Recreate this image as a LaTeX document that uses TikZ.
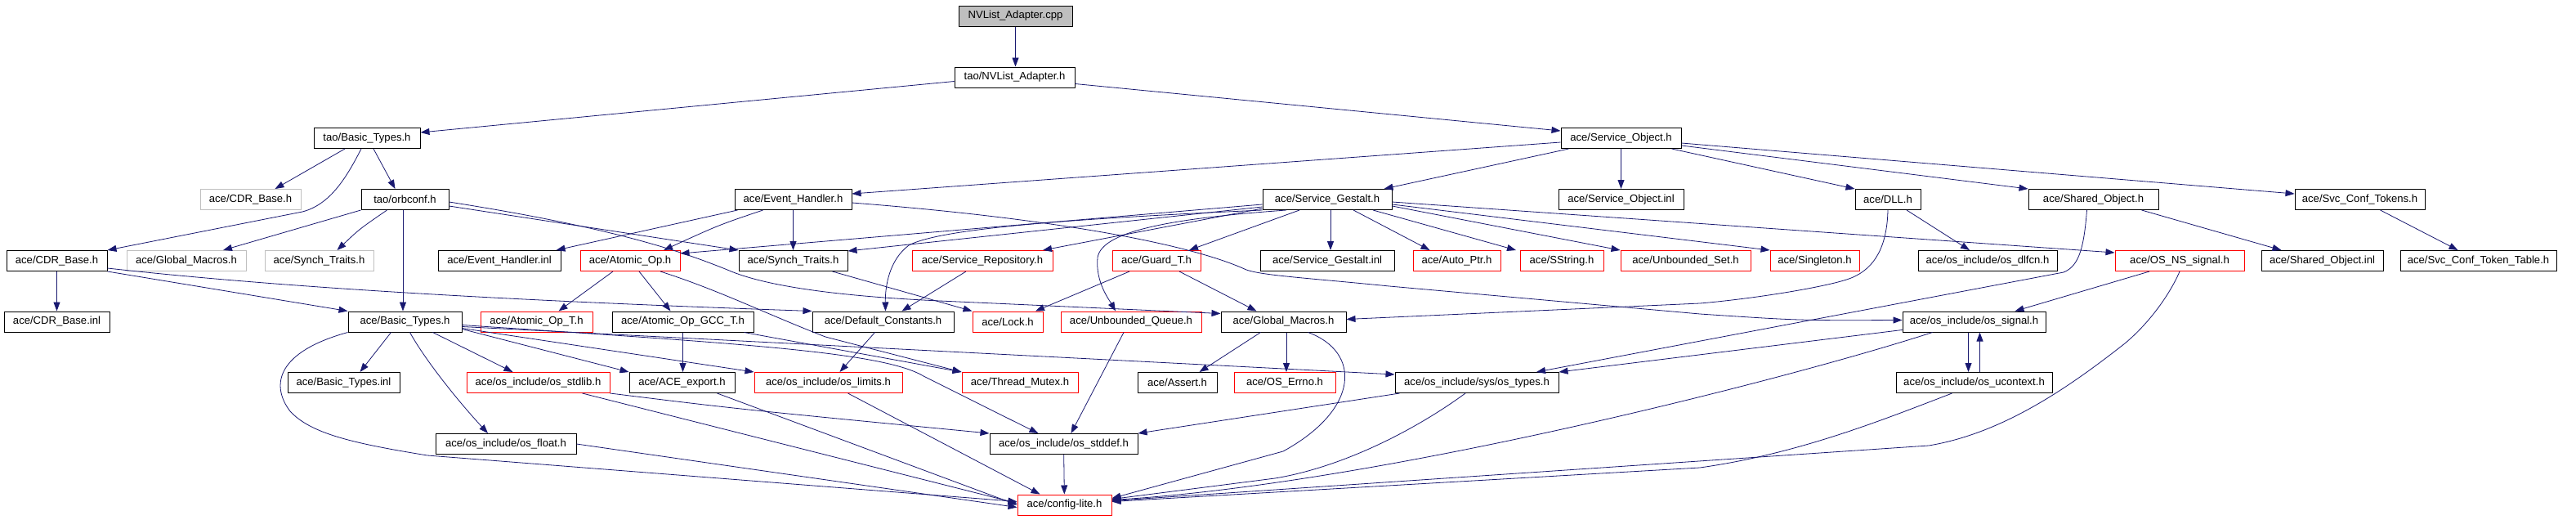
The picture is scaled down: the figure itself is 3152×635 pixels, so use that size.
\documentclass[tikz,border=0pt]{standalone}
\usepackage{fontspec}
\setmainfont{Liberation Sans}
\usetikzlibrary{arrows.meta}
\definecolor{edgec}{HTML}{191970}
\definecolor{grayb}{HTML}{BFBFBF}
\begin{document}
\begin{tikzpicture}[x=1pt,y=1pt,
  box/.style={draw=black, line width=1pt, minimum height=25pt, inner sep=0pt, font=\fontsize{13.1}{14}\selectfont, anchor=center},
  redbox/.style={box, draw=red},
  graybox/.style={box, draw=grayb},
  rootbox/.style={box, fill=grayb},
  dep/.style={draw=edgec, line width=0.8pt, -{Triangle[length=11pt,width=8pt]}},
]
\useasboundingbox (0,0) rectangle (3152,-635);
% row 0,1
\node[rootbox, minimum width=139pt] (root) at (1242.5,-19.5) {NVList\_Adapter.cpp};
\node[box, minimum width=147pt] (nvh) at (1241.5,-94.5) {tao/NVList\_Adapter.h};
% row 2
\node[box, minimum width=130pt] (tbt) at (449,-169) {tao/Basic\_Types.h};
\node[box, minimum width=147pt] (so) at (1983.5,-169) {ace/Service\_Object.h};
% row 3
\node[graybox, minimum width=123pt] (cdrg) at (306.5,-244) {ace/CDR\_Base.h};
\node[box, minimum width=107pt] (orb) at (495.5,-244) {tao/orbconf.h};
\node[box, minimum width=143pt] (eh) at (970.5,-244) {ace/Event\_Handler.h};
\node[box, minimum width=158pt] (sg) at (1624,-244) {ace/Service\_Gestalt.h};
\node[box, minimum width=153pt] (soi) at (1983.5,-244) {ace/Service\_Object.inl};
\node[box, minimum width=80pt] (dll) at (2310,-244) {ace/DLL.h};
\node[box, minimum width=159pt] (sho) at (2561.5,-244) {ace/Shared\_Object.h};
\node[box, minimum width=159pt] (sct) at (2887.5,-244) {ace/Svc\_Conf\_Tokens.h};
% row 4
\node[box, minimum width=123pt] (cdr) at (69.5,-319) {ace/CDR\_Base.h};
\node[graybox, minimum width=146pt] (gmg) at (228,-319) {ace/Global\_Macros.h};
\node[graybox, minimum width=133pt] (stg) at (390.5,-319) {ace/Synch\_Traits.h};
\node[box, minimum width=150pt] (ehi) at (611,-319) {ace/Event\_Handler.inl};
\node[redbox, minimum width=122pt] (aop) at (771,-319) {ace/Atomic\_Op.h};
\node[box, minimum width=133pt] (st) at (970.5,-319) {ace/Synch\_Traits.h};
\node[redbox, minimum width=172pt] (sr) at (1202,-319) {ace/Service\_Repository.h};
\node[redbox, minimum width=108pt] (gt) at (1415,-319) {ace/Guard\_T.h};
\node[box, minimum width=164pt] (sgi) at (1624,-319) {ace/Service\_Gestalt.inl};
\node[redbox, minimum width=107pt] (ap) at (1782.5,-319) {ace/Auto\_Ptr.h};
\node[redbox, minimum width=102pt] (ss) at (1911,-319) {ace/SString.h};
\node[redbox, minimum width=159pt] (us) at (2062.5,-319) {ace/Unbounded\_Set.h};
\node[redbox, minimum width=109pt] (sgl) at (2220.5,-319) {ace/Singleton.h};
\node[box, minimum width=170pt] (dlf) at (2432,-319) {ace/os\_include/os\_dlfcn.h};
\node[redbox, minimum width=158pt] (nss) at (2667,-319) {ace/OS\_NS\_signal.h};
\node[box, minimum width=149pt] (shoi) at (2841.5,-319) {ace/Shared\_Object.inl};
\node[box, minimum width=191pt] (sctt) at (3032.5,-319) {ace/Svc\_Conf\_Token\_Table.h};
% row 5
\node[box, minimum width=129pt] (cdri) at (69.5,-393.5) {ace/CDR\_Base.inl};
\node[box, minimum width=139pt] (bt) at (495.5,-393.5) {ace/Basic\_Types.h};
\node[redbox, minimum width=137pt] (aopt) at (656.5,-393.5) {ace/Atomic\_Op\_T.h};
\node[box, minimum width=173pt] (gcc) at (835.5,-393.5) {ace/Atomic\_Op\_GCC\_T.h};
\node[box, minimum width=173pt] (dc) at (1080.5,-393.5) {ace/Default\_Constants.h};
\node[redbox, minimum width=86pt] (lock) at (1233,-393.5) {ace/Lock.h};
\node[redbox, minimum width=172pt] (uq) at (1384,-393.5) {ace/Unbounded\_Queue.h};
\node[box, minimum width=153pt] (gm) at (1570.5,-393.5) {ace/Global\_Macros.h};
\node[box, minimum width=175pt] (sig) at (2415.5,-393.5) {ace/os\_include/os\_signal.h};
% row 6
\node[box, minimum width=137pt] (bti) at (420.5,-468) {ace/Basic\_Types.inl};
\node[redbox, minimum width=175pt] (stdlib) at (658.5,-468) {ace/os\_include/os\_stdlib.h};
\node[box, minimum width=129pt] (exp) at (834.5,-468) {ace/ACE\_export.h};
\node[redbox, minimum width=181pt] (lim) at (1013.5,-468) {ace/os\_include/os\_limits.h};
\node[redbox, minimum width=142pt] (tm) at (1248,-468) {ace/Thread\_Mutex.h};
\node[box, minimum width=97pt] (as) at (1440.5,-468) {ace/Assert.h};
\node[redbox, minimum width=124pt] (err) at (1572,-468) {ace/OS\_Errno.h};
\node[box, minimum width=200pt] (ost) at (1807,-468) {ace/os\_include/sys/os\_types.h};
\node[box, minimum width=191pt] (uc) at (2415.5,-468) {ace/os\_include/os\_ucontext.h};
% row 7,8
\node[box, minimum width=172pt] (flt) at (619,-543) {ace/os\_include/os\_float.h};
\node[box, minimum width=181pt] (std) at (1301.5,-543) {ace/os\_include/os\_stddef.h};
\node[redbox, minimum width=115pt] (cfg) at (1302.5,-617.5) {ace/config-lite.h};

% edges
\draw[dep] (root.south) -- (root.south |- nvh.north);
\draw[dep] ([yshift=-5pt]nvh.west) -- ([yshift=7pt]tbt.east);
\draw[dep] ([yshift=-8pt]nvh.east) -- ([yshift=9pt]so.west);
\draw[dep] ([xshift=-27pt]tbt.south) -- ([xshift=30pt]cdrg.north);
\draw[dep] ([xshift=-7pt]tbt.south) .. controls (425,-215) and (405,-250) .. (370,-259) -- (cdr.north east);
\draw[dep] ([xshift=8pt]tbt.south) -- ([xshift=-12pt]orb.north);
\draw[dep] (orb.south west) -- ([xshift=45pt]gmg.north);
\draw[dep] ([xshift=-22pt]orb.south) .. controls (440,-280) .. ([xshift=22pt]stg.north);
\draw[dep] ([xshift=-2.5pt]orb.south) -- ([xshift=-2.5pt]bt.north);
\draw[dep] ([yshift=-8pt]orb.east) -- (st.north west);
\draw[dep] ([yshift=-3pt]orb.east) .. controls (760,-280) and (840,-310) .. (890,-330) .. controls (940,-352) and (1040,-363) .. (1150,-368) -- ([yshift=10pt]gm.west);
\draw[dep] (cdr.south east) -- (bt.north west);
\draw[dep] ([yshift=-9pt]cdr.east) .. controls (400,-358) and (750,-372) .. (dc.north west);
\draw[dep] (cdr) -- (cdri);
\draw[dep] ([xshift=4pt]eh.south west) -- ([xshift=-6pt]ehi.north east);
\draw[dep] ([xshift=-37pt]eh.south) .. controls (880,-275) .. ([xshift=41pt]aop.north);
\draw[dep] (eh) -- (st);
\draw[dep] ([yshift=-4pt]eh.east) .. controls (1300,-268) and (1460,-300) .. (1525,-330) .. controls (1545,-337) and (1600,-340) .. (1700,-350) -- (2080,-384) .. controls (2200,-392) .. ([yshift=2pt]sig.west);
\draw[dep] ([yshift=-6pt]sg.west) -- ([yshift=9pt]aop.east);
\draw[dep] ([yshift=-9pt]sg.west) -- ([yshift=12pt]st.east);
\draw[dep] ([yshift=-11pt]sg.west) -- ([xshift=74pt]sr.north);
\draw[dep] (sg.south west) .. controls (1300,-268) and (1150,-280) .. (1112,-300) .. controls (1088,-318) and (1083,-350) .. ([xshift=3pt]dc.north);
\draw[dep] ([xshift=-34pt]sg.south) -- ([xshift=40pt]gt.north);
\draw[dep] ([xshift=-50pt]sg.south) .. controls (1420,-268) and (1348,-285) .. (1343,-315) .. controls (1340,-345) and (1358,-368) .. ([xshift=-19pt]uq.north);
\draw[dep] ([xshift=4pt]sg.south) -- ([xshift=4pt]sgi.north);
\draw[dep] ([xshift=32pt]sg.south) -- ([xshift=-33pt]ap.north);
\draw[dep] ([xshift=56pt]sg.south) -- ([xshift=-56pt]ss.north);
\draw[dep] ([yshift=-8pt]sg.east) -- (us.north west);
\draw[dep] ([yshift=-6pt]sg.east) -- (sgl.north west);
\draw[dep] ([yshift=-3pt]sg.east) -- ([yshift=10pt]nss.west);
\draw[dep] ([yshift=-5pt]so.west) -- ([yshift=7pt]eh.east);
\draw[dep] ([xshift=10pt]so.south west) -- ([xshift=-10pt]sg.north east);
\draw[dep] (so) -- (soi);
\draw[dep] ([xshift=-12pt]so.south east) -- (dll.north west);
\draw[dep] ([yshift=-9pt]so.east) -- (sho.north west);
\draw[dep] ([yshift=-6pt]so.east) -- ([yshift=7pt]sct.west);
\draw[dep] ([xshift=23pt]dll.south) -- ([xshift=-22pt]dlf.north);
\draw[dep] (dll.south) .. controls (2309,-300) and (2295,-328) .. (2265,-340) .. controls (2240,-350) and (2150,-365) .. (2080,-371) -- ([yshift=3pt]gm.east);
\draw[dep] ([xshift=-21pt]sho.south east) -- ([xshift=-50pt]shoi.north);
\draw[dep] ([xshift=-8pt]sho.south) .. controls (2550,-300) and (2545,-325) .. (2525,-333) -- ([xshift=73pt]ost.north);
\draw[dep] ([xshift=25pt]sct.south) -- ([xshift=-25pt]sctt.north);
\draw[dep] ([xshift=-37pt]nss.south) -- ([xshift=50pt]sig.north);
\draw[dep] (nss.south) .. controls (2655,-360) and (2630,-395) .. (2600,-420) .. controls (2530,-475) and (2450,-530) .. (2360,-545) -- ([yshift=5pt]cfg.east);
\draw[dep] ([xshift=-33pt]gt.south) -- ([xshift=34pt]lock.north);
\draw[dep] ([xshift=28pt]gt.south) -- ([xshift=-33pt]gm.north);
\draw[dep] ([xshift=-20pt]sr.south) -- ([xshift=23pt]dc.north);
\draw[dep] ([xshift=-19pt]st.south east) -- (lock.north west);
\draw[dep] ([xshift=-21pt]aop.south) -- ([xshift=27pt]aopt.north);
\draw[dep] ([xshift=11pt]aop.south) -- ([xshift=-15pt]gcc.north);
\draw[dep] ([xshift=37pt]aop.south) .. controls (880,-355) and (940,-385) .. (1010,-412) -- (tm.north west);
\draw[dep] (gcc.south) -- (gcc.south |- exp.north);
\draw[dep] ([xshift=-12pt]gcc.south east) -- (tm.north west);
\draw[dep] ([xshift=-10pt]dc.south) -- ([xshift=14pt]lim.north);
\draw[dep] ([xshift=-9pt]uq.south) -- ([xshift=9pt]std.north);
\draw[dep] ([xshift=-28pt]gm.south) -- ([xshift=27pt]as.north);
\draw[dep] ([xshift=3.5pt]gm.south) -- ([xshift=2pt]err.north);
\draw[dep] ([xshift=30pt]gm.south) .. controls (1665,-430) and (1665,-500) .. (1570,-552) -- ([yshift=8pt]cfg.east);
\draw[dep] ([yshift=-10pt]sig.west) -- (ost.north east);
\draw[dep] ([xshift=37pt]sig.south west) .. controls (2200,-460) and (1700,-590) .. ([yshift=6pt]cfg.east);
\draw[dep] ([xshift=-7pt]sig.south) -- ([xshift=-7pt]uc.north);
\draw[dep] ([xshift=7pt]uc.north) -- ([xshift=7pt]sig.south);
\draw[dep] ([xshift=-27pt]uc.south) .. controls (2300,-515) and (2200,-555) .. (2080,-572) -- ([yshift=4pt]cfg.east);
\draw[dep] ([xshift=6pt]ost.south west) -- (std.north east);
\draw[dep] ([xshift=-14pt]ost.south) .. controls (1740,-520) and (1650,-570) .. (1560,-585) -- ([yshift=7pt]cfg.east);
\draw[dep] ([xshift=-17pt]bt.south) -- ([xshift=20pt]bti.north);
\draw[dep] ([xshift=6pt]bt.south) .. controls (520,-440) and (560,-490) .. ([xshift=-22pt]flt.north);
\draw[dep] ([xshift=34pt]bt.south) -- ([xshift=-31pt]stdlib.north);
\draw[dep] ([yshift=-9pt]bt.east) -- (exp.north west);
\draw[dep] ([yshift=-8pt]bt.east) -- (lim.north west);
\draw[dep] ([yshift=-6pt]bt.east) -- ([yshift=10pt]ost.west);
\draw[dep] ([yshift=-4pt]bt.east) .. controls (900,-420) and (1080,-430) .. (1130,-460) .. controls (1190,-490) and (1240,-515) .. ([xshift=-31pt]std.north);
\draw[dep] (bt.south west) .. controls (340,-430) and (330,-470) .. (355,-503) .. controls (380,-530) and (430,-542) .. (523,-557) -- ([yshift=4pt]cfg.west);
\draw[dep] (stdlib.south east) .. controls (900,-500) .. ([yshift=13pt]std.west);
\draw[dep] ([xshift=54pt]stdlib.south) -- ([yshift=2pt]cfg.west);
\draw[dep] ([xshift=43pt]exp.south) -- (cfg.west);
\draw[dep] ([xshift=24pt]lim.south) -- ([xshift=-30pt]cfg.north);
\draw[dep] (flt.east) -- ([yshift=-3pt]cfg.west);
\draw[dep] (std) -- (cfg);
\end{tikzpicture}
\end{document}
